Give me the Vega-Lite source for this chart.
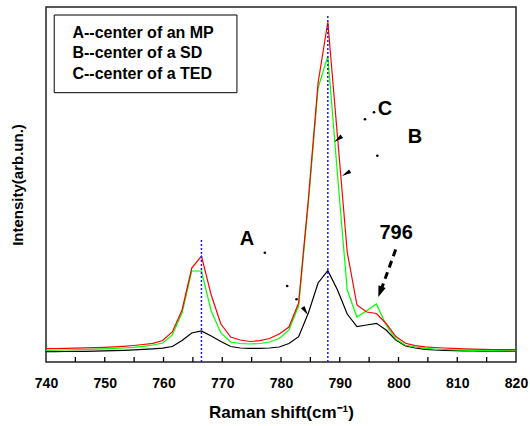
{
  "$schema": "https://vega.github.io/schema/vega-lite/v6.json",
  "width": 470,
  "height": 355,
  "autosize": {"type": "none"},
  "padding": {"left": 46, "top": 7, "right": 14, "bottom": 64},
  "config": {"font": "Liberation Sans", "view": {"stroke": "#222222", "strokeWidth": 1.5}},
  "datasets": {
    "spectra": [
      {"x": 740, "red": 13.3, "green": 11.7, "black": 10.3},
      {"x": 741.65, "red": 13.5, "green": 11.8, "black": 10.4},
      {"x": 743.31, "red": 13.7, "green": 12, "black": 10.5},
      {"x": 744.96, "red": 13.9, "green": 12.2, "black": 10.6},
      {"x": 746.62, "red": 14.1, "green": 12.5, "black": 10.7},
      {"x": 748.27, "red": 14.4, "green": 12.8, "black": 10.9},
      {"x": 749.92, "red": 14.7, "green": 13.1, "black": 11.1},
      {"x": 751.58, "red": 15.1, "green": 13.5, "black": 11.4},
      {"x": 753.23, "red": 15.7, "green": 14, "black": 11.7},
      {"x": 754.89, "red": 16.5, "green": 14.7, "black": 12.1},
      {"x": 756.54, "red": 17.5, "green": 15.7, "black": 12.6},
      {"x": 758.19, "red": 18.7, "green": 17, "black": 13.2},
      {"x": 759.85, "red": 21.5, "green": 19, "black": 13.8},
      {"x": 761.5, "red": 30, "green": 27, "black": 15.5},
      {"x": 763.16, "red": 52, "green": 49, "black": 21.5},
      {"x": 764.81, "red": 94, "green": 91, "black": 29},
      {"x": 766.46, "red": 106, "green": 91, "black": 31},
      {"x": 768.12, "red": 67, "green": 51, "black": 26},
      {"x": 769.77, "red": 38, "green": 29, "black": 20.5},
      {"x": 771.43, "red": 25, "green": 20, "black": 15.5},
      {"x": 773.08, "red": 22, "green": 18.5, "black": 14},
      {"x": 774.73, "red": 20.5, "green": 18, "black": 13.7},
      {"x": 776.39, "red": 21.3, "green": 18.5, "black": 13.7},
      {"x": 778.04, "red": 23.5, "green": 20, "black": 14},
      {"x": 779.7, "red": 28, "green": 23.5, "black": 15},
      {"x": 781.35, "red": 35, "green": 32, "black": 18.5},
      {"x": 783.0, "red": 59, "green": 56, "black": 25.3},
      {"x": 784.66, "red": 163, "green": 159, "black": 49},
      {"x": 786.31, "red": 279, "green": 274, "black": 79},
      {"x": 787.97, "red": 340, "green": 306, "black": 91.3},
      {"x": 789.62, "red": 225, "green": 187, "black": 72},
      {"x": 791.27, "red": 110, "green": 72, "black": 48},
      {"x": 792.93, "red": 57, "green": 45, "black": 35.5},
      {"x": 794.58, "red": 50, "green": 51.3, "black": 37},
      {"x": 796.24, "red": 48.5, "green": 58, "black": 38.7},
      {"x": 797.89, "red": 38.5, "green": 37, "black": 32},
      {"x": 799.54, "red": 25.5, "green": 23, "black": 22},
      {"x": 801.2, "red": 18.7, "green": 16.7, "black": 16},
      {"x": 802.85, "red": 16.3, "green": 15, "black": 14},
      {"x": 804.51, "red": 15.2, "green": 13.7, "black": 12.7},
      {"x": 806.16, "red": 14.5, "green": 13, "black": 12},
      {"x": 807.81, "red": 14, "green": 12.5, "black": 11.6},
      {"x": 809.47, "red": 13.6, "green": 12.2, "black": 11.3},
      {"x": 811.12, "red": 13.2, "green": 11.9, "black": 11.1},
      {"x": 812.78, "red": 12.9, "green": 11.7, "black": 11},
      {"x": 814.43, "red": 12.7, "green": 11.5, "black": 10.9},
      {"x": 816.08, "red": 12.5, "green": 11.4, "black": 10.8},
      {"x": 817.74, "red": 12.4, "green": 11.3, "black": 10.8},
      {"x": 819.39, "red": 12.3, "green": 11.2, "black": 10.7},
      {"x": 820, "red": 12.3, "green": 11.2, "black": 10.7}
    ],
    "ticks": [
      {"x": 745, "y0": 0, "y1": 5}, {"x": 750, "y0": 0, "y1": 5}, {"x": 755, "y0": 0, "y1": 5},
      {"x": 760, "y0": 0, "y1": 5}, {"x": 765, "y0": 0, "y1": 5}, {"x": 770, "y0": 0, "y1": 5},
      {"x": 775, "y0": 0, "y1": 5}, {"x": 780, "y0": 0, "y1": 5}, {"x": 785, "y0": 0, "y1": 5},
      {"x": 790, "y0": 0, "y1": 5}, {"x": 795, "y0": 0, "y1": 5}, {"x": 800, "y0": 0, "y1": 5},
      {"x": 805, "y0": 0, "y1": 5}, {"x": 810, "y0": 0, "y1": 5}, {"x": 815, "y0": 0, "y1": 5}
    ],
    "peaks": [
      {"x": 766.46, "y0": 0, "y1": 122},
      {"x": 787.97, "y0": 0, "y1": 348}
    ],
    "legendbox": [{"x": 741.4, "x2": 772.5, "y": 269.3, "y2": 347}],
    "legendtext": [
      {"x": 744.5, "I": 329, "t": "A--center of an MP"},
      {"x": 744.5, "I": 308.7, "t": "B--center of a SD"},
      {"x": 744.5, "I": 288, "t": "C--center of a TED"}
    ],
    "labels": [
      {"x": 774.2, "I": 123, "t": "A"},
      {"x": 797.7, "I": 253, "t": "C"},
      {"x": 802.8, "I": 225, "t": "B"},
      {"x": 799.6, "I": 129, "t": "796"}
    ],
    "dots": [
      {"x": 777.25, "I": 109.3},
      {"x": 781.05, "I": 76},
      {"x": 782.65, "I": 62.7},
      {"x": 794.3, "I": 242.7},
      {"x": 795.83, "I": 249.7},
      {"x": 796.4, "I": 206.3}
    ],
    "heads": [
      {"id": "A", "x": 784.6, "I": 47},
      {"id": "C", "x": 789.06, "I": 220},
      {"id": "B", "x": 790.37, "I": 186},
      {"id": "796", "x": 796.56, "I": 65}
    ],
    "dash": [
      {"x": 799.7, "I": 115.3},
      {"x": 797.02, "I": 72}
    ]
  },
  "layer": [
    {
      "data": {"name": "spectra"},
      "transform": [{"fold": ["black", "green", "red"], "as": ["series", "I"]}],
      "mark": {"type": "line", "strokeWidth": 1.2, "clip": true},
      "encoding": {
        "x": {
          "field": "x", "type": "quantitative",
          "scale": {"domain": [740, 820], "nice": false, "zero": false},
          "axis": {
            "values": [740, 750, 760, 770, 780, 790, 800, 810, 820],
            "ticks": false,
            "domain": false, "grid": false,
            "labelFlush": false, "labelOverlap": false,
            "labelFontWeight": "bold", "labelFontSize": 14, "labelColor": "#000000", "labelPadding": 14,
            "title": "Raman shift(cm⁻¹)", "titleFontSize": 17, "titleFontWeight": "bold", "titleColor": "#000000", "titlePadding": 14
          }
        },
        "y": {
          "field": "I", "type": "quantitative",
          "scale": {"domain": [0, 355], "nice": false},
          "axis": {
            "labels": false, "ticks": false, "domain": false, "grid": false,
            "title": "Intensity(arb.un.)", "titleFontSize": 15, "titleFontWeight": "bold", "titleColor": "#000000", "titlePadding": 21
          }
        },
        "color": {
          "field": "series", "type": "nominal",
          "scale": {"domain": ["black", "green", "red"], "range": ["#000000", "#00ff00", "#ff0000"]},
          "legend": null
        }
      }
    },
    {
      "data": {"name": "ticks"},
      "mark": {"type": "rule", "color": "#000000", "strokeWidth": 1.3},
      "encoding": {
        "x": {"field": "x", "type": "quantitative"},
        "y": {"field": "y0", "type": "quantitative"},
        "y2": {"field": "y1"}
      }
    },
    {
      "data": {"name": "peaks"},
      "mark": {"type": "rule", "color": "#1a1aff", "strokeDash": [2, 2], "strokeWidth": 1.5},
      "encoding": {
        "x": {"field": "x", "type": "quantitative"},
        "y": {"field": "y0", "type": "quantitative"},
        "y2": {"field": "y1"}
      }
    },
    {
      "data": {"name": "legendbox"},
      "mark": {"type": "rect", "fill": "#ffffff", "stroke": "#000000", "strokeWidth": 1},
      "encoding": {
        "x": {"field": "x", "type": "quantitative"},
        "x2": {"field": "x2"},
        "y": {"field": "y", "type": "quantitative"},
        "y2": {"field": "y2"}
      }
    },
    {
      "data": {"name": "legendtext"},
      "mark": {"type": "text", "align": "left", "baseline": "middle", "fontSize": 16, "fontWeight": "bold", "color": "#000000"},
      "encoding": {
        "x": {"field": "x", "type": "quantitative"},
        "y": {"field": "I", "type": "quantitative"},
        "text": {"field": "t"}
      }
    },
    {
      "data": {"name": "labels"},
      "mark": {"type": "text", "align": "center", "baseline": "middle", "fontSize": 20, "fontWeight": "bold", "color": "#000000"},
      "encoding": {
        "x": {"field": "x", "type": "quantitative"},
        "y": {"field": "I", "type": "quantitative"},
        "text": {"field": "t"}
      }
    },
    {
      "data": {"name": "dots"},
      "mark": {"type": "point", "filled": true, "color": "#000000", "size": 7, "opacity": 1},
      "encoding": {
        "x": {"field": "x", "type": "quantitative"},
        "y": {"field": "I", "type": "quantitative"}
      }
    },
    {
      "data": {"name": "dash"},
      "mark": {"type": "line", "color": "#000000", "strokeWidth": 3, "strokeDash": [7, 5]},
      "encoding": {
        "x": {"field": "x", "type": "quantitative"},
        "y": {"field": "I", "type": "quantitative"}
      }
    },
    {
      "data": {"name": "heads"},
      "transform": [{"filter": "datum.id === 'A'"}],
      "mark": {"type": "point", "shape": "M0,0L-0.45,2L0.45,2Z", "filled": true, "color": "#000000", "opacity": 1, "size": 90, "angle": 146},
      "encoding": {
        "x": {"field": "x", "type": "quantitative"},
        "y": {"field": "I", "type": "quantitative"}
      }
    },
    {
      "data": {"name": "heads"},
      "transform": [{"filter": "datum.id === 'C'"}],
      "mark": {"type": "point", "shape": "M0,0L-0.45,2L0.45,2Z", "filled": true, "color": "#000000", "opacity": 1, "size": 90, "angle": 233},
      "encoding": {
        "x": {"field": "x", "type": "quantitative"},
        "y": {"field": "I", "type": "quantitative"}
      }
    },
    {
      "data": {"name": "heads"},
      "transform": [{"filter": "datum.id === 'B'"}],
      "mark": {"type": "point", "shape": "M0,0L-0.45,2L0.45,2Z", "filled": true, "color": "#000000", "opacity": 1, "size": 90, "angle": 240},
      "encoding": {
        "x": {"field": "x", "type": "quantitative"},
        "y": {"field": "I", "type": "quantitative"}
      }
    },
    {
      "data": {"name": "heads"},
      "transform": [{"filter": "datum.id === '796'"}],
      "mark": {"type": "point", "shape": "M0,0L-0.7,2L0.7,2Z", "filled": true, "color": "#000000", "opacity": 1, "size": 121, "angle": 200},
      "encoding": {
        "x": {"field": "x", "type": "quantitative"},
        "y": {"field": "I", "type": "quantitative"}
      }
    }
  ]
}
